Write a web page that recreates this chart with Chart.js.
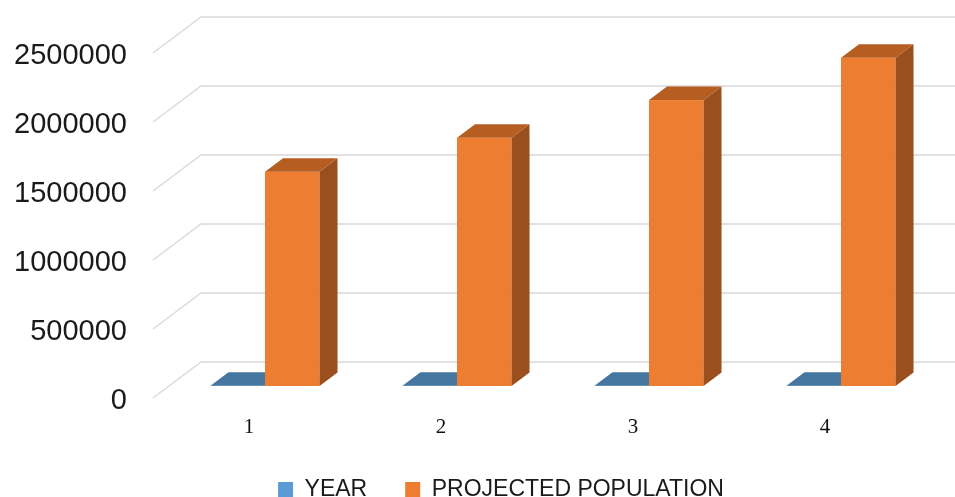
<!DOCTYPE html>
<html>
<head>
<meta charset="utf-8">
<script src="https://cdn.jsdelivr.net/npm/chart.js@4/dist/chart.umd.min.js"></script>
<style>
  html, body { margin: 0; padding: 0; background: #ffffff; }
  #wrap { width: 955px; height: 497px; }
</style>
</head>
<body>
<div id="wrap"><canvas id="chart" width="955" height="497"></canvas></div>
<script>
// Categories and series
const categories = ['1', '2', '3', '4'];
const yearValues = [2020, 2030, 2040, 2050];
const projectedPopulation = [1553000, 1799000, 2072000, 2379000];
const yTicks = [0, 500000, 1000000, 1500000, 2000000, 2500000];

// 3D look: floor depth vector and bar placement within that depth
const DEPTH = { dx: 48, dy: -36 };
const BAR_FRONT = 1 / 3;     // fraction of the depth in front of the bar
const BAR_DEPTH = 0.375;     // fraction of the depth taken by the bar

const faceColors = [
  { front: '#5B9BD5', top: '#44769F', side: '#3A6589' },
  { front: '#ED7D31', top: '#B65E22', side: '#9A4F1E' }
];

const threeD = {
  id: 'threeD',
  beforeDatasetsDraw(chart) {
    const { ctx, chartArea, scales } = chart;
    const y = scales.y;
    ctx.save();
    ctx.strokeStyle = '#d9d9d9';
    ctx.lineWidth = 1.3;
    yTicks.forEach(v => {
      const py = y.getPixelForValue(v);
      ctx.beginPath();
      ctx.moveTo(chartArea.left, py);
      ctx.lineTo(chartArea.left + DEPTH.dx, py + DEPTH.dy);
      ctx.lineTo(chartArea.right + DEPTH.dx, py + DEPTH.dy);
      ctx.stroke();
    });
    ctx.restore();
  },
  beforeDatasetDraw() {
    return false;
  },
  afterDatasetsDraw(chart) {
    const { ctx } = chart;
    const ox = DEPTH.dx * BAR_FRONT, oy = DEPTH.dy * BAR_FRONT;
    const bx = DEPTH.dx * BAR_DEPTH, by = DEPTH.dy * BAR_DEPTH;
    const metas = chart.data.datasets.map((d, i) => chart.getDatasetMeta(i));
    ctx.save();
    for (let c = 0; c < categories.length; c++) {
      metas.forEach((meta, di) => {
        const el = meta.data[c];
        const col = faceColors[di];
        const x0 = el.x - el.width / 2 + ox;
        const x1 = el.x + el.width / 2 + ox;
        const yt = el.y + oy;
        const yb = el.base + oy;
        // front face
        ctx.fillStyle = col.front;
        ctx.fillRect(x0, yt, x1 - x0, yb - yt);
        // side face
        ctx.fillStyle = col.side;
        ctx.beginPath();
        ctx.moveTo(x1, yt);
        ctx.lineTo(x1 + bx, yt + by);
        ctx.lineTo(x1 + bx, yb + by);
        ctx.lineTo(x1, yb);
        ctx.closePath();
        ctx.fill();
        // top face
        ctx.fillStyle = col.top;
        ctx.beginPath();
        ctx.moveTo(x0, yt);
        ctx.lineTo(x1, yt);
        ctx.lineTo(x1 + bx, yt + by);
        ctx.lineTo(x0 + bx, yt + by);
        ctx.closePath();
        ctx.fill();
      });
    }
    ctx.restore();
  }
};

new Chart(document.getElementById('chart'), {
  type: 'bar',
  data: {
    labels: categories,
    datasets: [
      { label: 'YEAR', data: yearValues, backgroundColor: faceColors[0].front, borderWidth: 0,
        categoryPercentage: 0.568, barPercentage: 1.0 },
      { label: 'PROJECTED POPULATION', data: projectedPopulation, backgroundColor: faceColors[1].front, borderWidth: 0,
        categoryPercentage: 0.568, barPercentage: 1.0 }
    ]
  },
  options: {
    responsive: false,
    animation: false,
    // legend is centred a little right of the canvas middle
    layout: { padding: { left: 0, right: -47, top: 53, bottom: -14 } },
    plugins: {
      legend: {
        position: 'bottom',
        labels: {
          boxWidth: 15,
          boxHeight: 15,
          padding: 38,
          color: '#1a1a1a',
          font: { family: 'Liberation Sans', size: 23 }
        }
      },
      tooltip: { enabled: false }
    },
    scales: {
      x: {
        offset: true,
        grid: { display: false, drawTicks: false },
        border: { display: false },
        ticks: { padding: 17, color: '#111', font: { family: 'Liberation Serif', size: 21 } },
        afterFit(scale) { scale.height = 42; }
      },
      y: {
        min: 0,
        max: 2500000,
        afterBuildTicks(scale) { scale.ticks = yTicks.map(v => ({ value: v })); },
        grid: { display: false, drawTicks: false },
        border: { display: false },
        ticks: {
          padding: 26,
          labelOffset: 3,
          color: '#1a1a1a',
          font: { family: 'Liberation Sans', size: 29 },
          callback: v => String(v)
        },
        afterFit(scale) { scale.width = 153; }
      },
      // empty right-hand margin that holds the receding back wall
      yRight: {
        position: 'right',
        min: 0,
        max: 2500000,
        grid: { display: false, drawTicks: false },
        border: { display: false },
        ticks: { display: false },
        afterFit(scale) { scale.width = 81; }
      }
    }
  },
  plugins: [threeD]
});
</script>
</body>
</html>
